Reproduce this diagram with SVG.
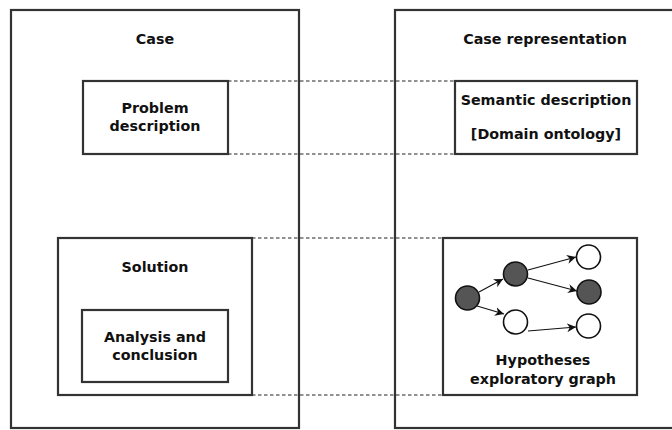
<svg xmlns="http://www.w3.org/2000/svg" width="672" height="430" viewBox="0 0 672 430">
<style>
.box{fill:#fff;stroke:#333;stroke-width:2.2}
.t{font-family:"DejaVu Sans",sans-serif;font-weight:bold;font-size:14.3px;fill:#111;text-anchor:middle}
.d{stroke:#222;stroke-width:1;stroke-dasharray:3.5,2.5;fill:none}
.c{stroke:#111;stroke-width:1.6}
.e{stroke:#111;stroke-width:1.1;fill:none;marker-end:url(#ah)}
</style>
<defs>
<marker id="ah" viewBox="0 0 10 10" refX="10" refY="5" markerWidth="9" markerHeight="9" markerUnits="userSpaceOnUse" orient="auto">
<path d="M0,0 L10,5 L0,10 L3,5 z" fill="#111"/>
</marker>
</defs>
<rect width="672" height="430" fill="#fff"/>
<g id="case">
<rect class="box" x="11" y="10" width="288" height="418"/>
<text class="t" x="155" y="44">Case</text>
</g>
<g id="case-representation">
<rect class="box" x="395" y="10" width="290" height="418"/>
<text class="t" x="545" y="44">Case representation</text>
</g>
<g id="connectors">
<line class="d" x1="228" y1="81" x2="455" y2="81"/>
<line class="d" x1="228" y1="154" x2="455" y2="154"/>
<line class="d" x1="252" y1="238" x2="443" y2="238"/>
<line class="d" x1="252" y1="395" x2="443" y2="395"/>
</g>
<g id="problem-description">
<rect class="box" x="83" y="81" width="145" height="73"/>
<text class="t" x="155" y="113">Problem</text>
<text class="t" x="155" y="131">description</text>
</g>
<g id="semantic-description">
<rect class="box" x="455" y="81" width="182" height="73"/>
<text class="t" x="546" y="105">Semantic description</text>
<text class="t" x="546" y="139">[Domain ontology]</text>
</g>
<g id="solution">
<rect class="box" x="58" y="238" width="194" height="157"/>
<text class="t" x="155" y="272">Solution</text>
</g>
<g id="analysis-and-conclusion">
<rect class="box" x="82" y="310" width="146" height="72"/>
<text class="t" x="155" y="342">Analysis and</text>
<text class="t" x="155" y="360">conclusion</text>
</g>
<g id="hypotheses-exploratory-graph">
<rect class="box" x="443" y="238" width="194" height="157"/>
<line class="e" x1="479" y1="292" x2="503" y2="279"/>
<line class="e" x1="477" y1="306" x2="504" y2="314"/>
<line class="e" x1="528" y1="270" x2="576" y2="257"/>
<line class="e" x1="528" y1="278" x2="577" y2="291"/>
<line class="e" x1="528" y1="331" x2="576" y2="327"/>
<circle class="c" cx="467.5" cy="298" r="12" fill="#555"/>
<circle class="c" cx="515.5" cy="274" r="12" fill="#555"/>
<circle class="c" cx="515.5" cy="322" r="12" fill="#fff"/>
<circle class="c" cx="588.5" cy="257" r="12" fill="#fff"/>
<circle class="c" cx="589" cy="292" r="12" fill="#555"/>
<circle class="c" cx="588.5" cy="326" r="12" fill="#fff"/>
<text class="t" x="543" y="365">Hypotheses</text>
<text class="t" x="543" y="384">exploratory graph</text>
</g>
</svg>
